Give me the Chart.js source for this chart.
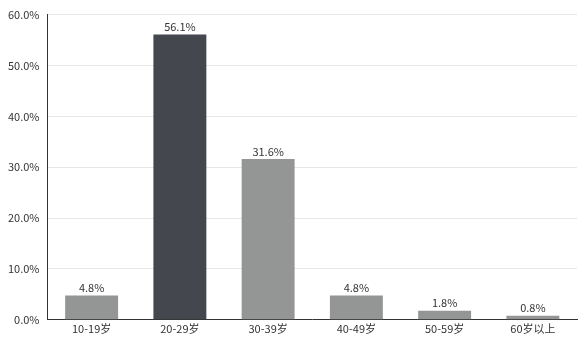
<!DOCTYPE html>
<html><head><meta charset="utf-8">
<script src="https://cdn.jsdelivr.net/npm/chart.js@4/dist/chart.umd.min.js"></script>
<style>html,body{margin:0;padding:0;background:#fff}#w{width:580px;height:361px}</style>
</head><body><div id="w"><canvas id="c"></canvas></div>
<script>
const categories = ["10-19岁","20-29岁","30-39岁","40-49岁","50-59岁","60岁以上"];
const values = [4.8, 56.1, 31.6, 4.8, 1.8, 0.8];
const barColors = ["#949695","#45474e","#949695","#949695","#949695","#949695"];
const yTicks = [0,10,20,30,40,50,60];
const FONT = "'Noto Sans CJK SC', 'Noto Sans', sans-serif";

const labelPlugin = {
  id: 'vals',
  afterDatasetsDraw(chart) {
    const ctx = chart.ctx;
    const meta = chart.getDatasetMeta(0);
    ctx.save();
    ctx.font = "11px " + FONT;
    ctx.fillStyle = "#333";
    ctx.textAlign = "center";
    ctx.textBaseline = "bottom";
    meta.data.forEach((b, i) => {
      ctx.fillText(values[i].toFixed(1) + "%", b.x, b.y - 2);
    });
    ctx.restore();
  }
};

new Chart(document.getElementById('c'), {
  type: 'bar',
  data: { labels: categories, datasets: [{ data: values, backgroundColor: barColors, categoryPercentage: 0.6, barPercentage: 1 }] },
  options: {
    responsive: true, maintainAspectRatio: false, animation: false,
    layout: { padding: { top: 0, right: 3, left: 0, bottom: 24 } },
    plugins: { legend: { display: false }, tooltip: { enabled: false } },
    scales: {
      x: {
        grid: { display: false, drawTicks: false },
        border: { color: "#333", width: 1 },
        ticks: { color: "#333", font: { size: 11, family: FONT }, padding: 2 }
      },
      y: {
        min: 0, max: 60,
        afterBuildTicks(axis) { axis.ticks = yTicks.map(v => ({ value: v })); },
        grid: { color: "#e6e6e6", drawTicks: false },
        border: { color: "#333", width: 1 },
        ticks: { color: "#333", font: { size: 11, family: FONT }, padding: 8, callback: v => v.toFixed(1) + "%" }
      }
    }
  },
  plugins: [labelPlugin]
});
</script></body></html>
